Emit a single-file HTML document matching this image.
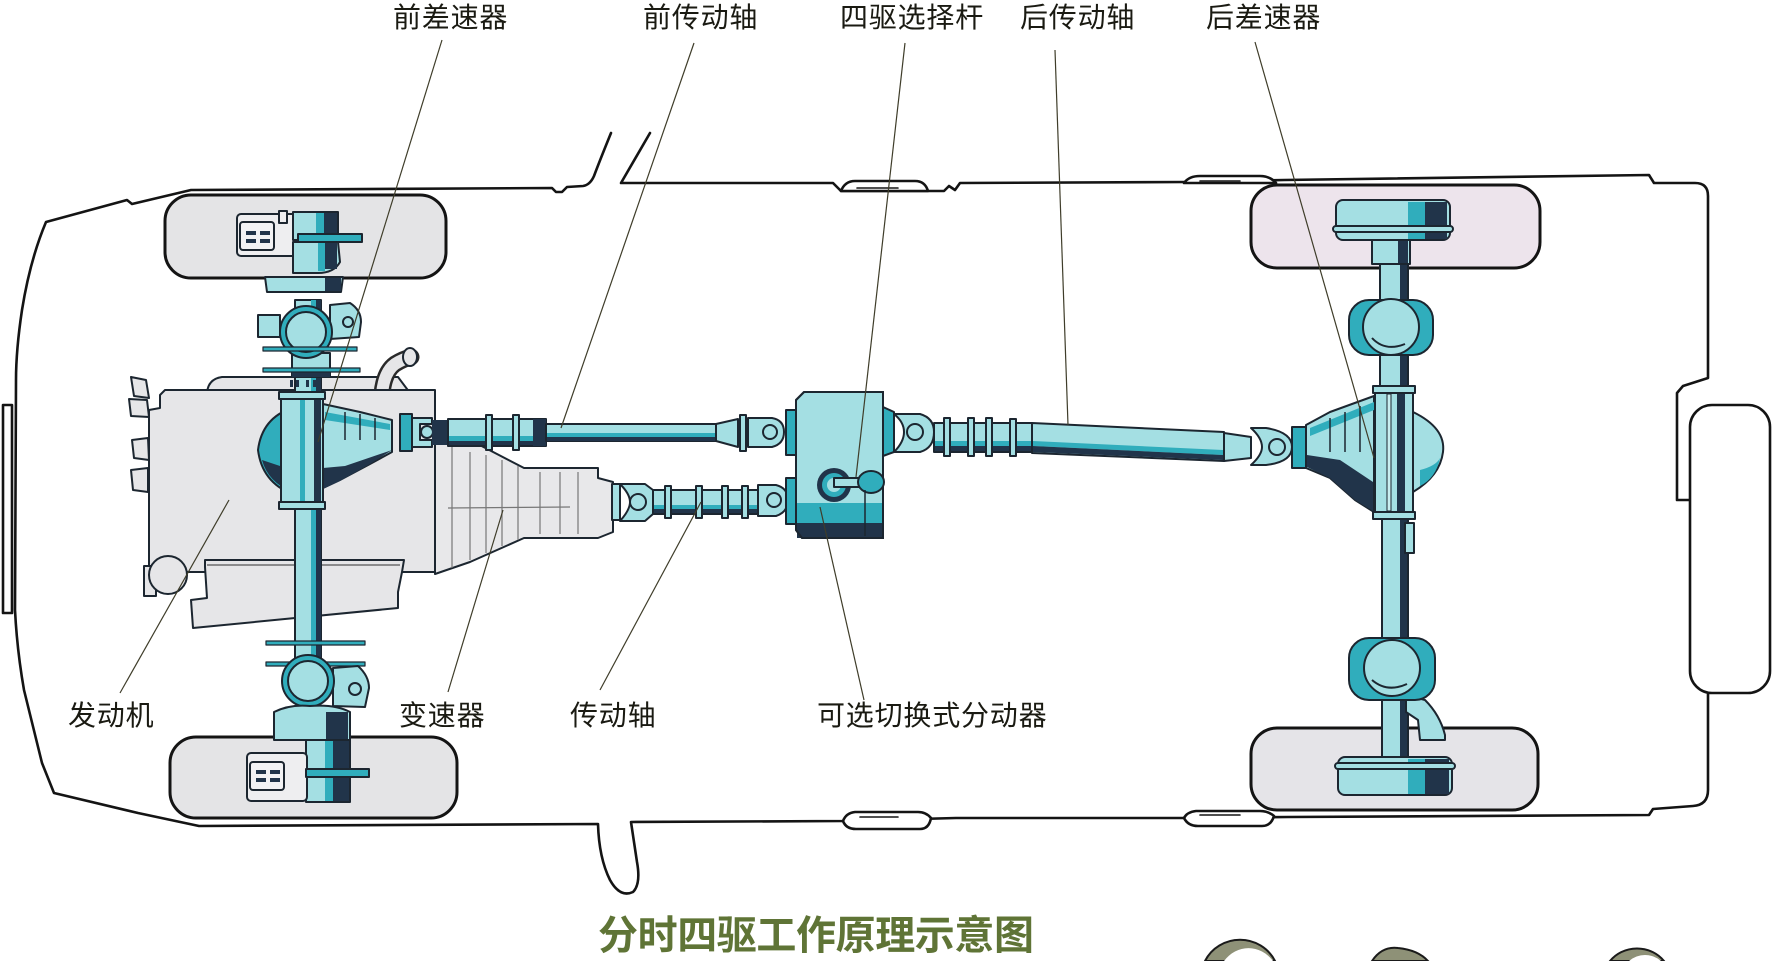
<!DOCTYPE html>
<html><head><meta charset="utf-8">
<style>
html,body{margin:0;padding:0;background:#fff;overflow:hidden;width:1773px;height:961px;}
svg{display:block}
text{font-family:"Liberation Sans","Noto Sans CJK SC",sans-serif;}
</style></head><body>
<svg width="1773" height="961" viewBox="0 0 1773 961" xmlns="http://www.w3.org/2000/svg">
<defs>
<style>
.k{stroke:#1c2630;stroke-width:2;stroke-linejoin:round;stroke-linecap:round}
.L{fill:#a4dfe3}.M{fill:#30adbc}.D{fill:#21344a}.G{fill:#e6e6e8}.W{fill:#fff}
.bd{fill:none;stroke:#141414;stroke-width:2.6;stroke-linejoin:round;stroke-linecap:round}
.ld{stroke:#3f3d2a;stroke-width:1.2;fill:none}
.lb{font-size:28px;fill:#1a1a12;letter-spacing:0.8px}
</style>
</defs>
<rect width="1773" height="961" fill="#fff"/>

<!-- BODY OUTLINE -->
<path class="bd" d="M 611,133 Q 600,160 594,176 Q 590,185 583,186 L 567,187 L 562,192 L 556,192 L 552,188 L 191,190 L 132,204 L 127,200 L 46,222 Q 30,260 22,310 Q 16,350 16,380 L 15,610 Q 17,650 24,690 L 42,763 L 54,793 L 138,813 L 199,826 L 598,824 Q 599,858 610,880 Q 620,898 633,892 Q 641,884 637,862 L 631,822 L 845,821 L 956,818 L 1188,818 L 1288,817 L 1649,815 L 1653,809 L 1693,806 Q 1708,805 1708,790 L 1708,693"/>
<path class="bd" d="M 1690,500 L 1677,500 L 1677,393 L 1683,386 L 1708,378 L 1708,196 Q 1708,183 1695,183 L 1654,183 L 1649,175 L 1284,180 L 1188,182 L 960,183 L 955,190 L 949,186 L 944,191 L 841,191 L 833,183 L 621,183 L 650,133"/>
<!-- mirrors -->
<path class="bd" style="fill:#fff" d="M 841,191 Q 845,181 855,181 L 915,181 Q 925,181 928,191 Z"/>
<path class="bd" style="stroke-width:1.6" d="M 857,188 L 898,188"/>
<path class="bd" style="fill:#fff" d="M 1184,183 Q 1189,176 1200,176 L 1260,176 Q 1270,176 1276,183 Z"/>
<path class="bd" style="stroke-width:1.6" d="M 1200,181 L 1240,181"/>
<path class="bd" style="fill:#fff" d="M 843,821 Q 846,829 856,829 L 920,829 Q 929,829 931,818 Q 926,812 918,812 L 855,812 Q 846,813 843,821 Z"/>
<path class="bd" style="stroke-width:1.6" d="M 860,817 L 898,817"/>
<path class="bd" style="fill:#fff" d="M 1184,818 Q 1188,826 1198,826 L 1262,826 Q 1271,826 1274,816 Q 1268,811 1260,811 L 1196,811 Q 1187,812 1184,818 Z"/>
<path class="bd" style="stroke-width:1.6" d="M 1200,815 L 1240,815"/>
<!-- bumper, spare -->
<rect x="3" y="405" width="9" height="208" class="bd"/>
<rect x="1690" y="405" width="80" height="288" rx="22" class="bd" style="fill:#fff"/>

<!-- WHEELS -->
<rect x="165" y="195" width="281" height="83" rx="26" fill="#e4e4e6" stroke="#141414" stroke-width="3"/>
<rect x="170" y="737" width="287" height="81" rx="26" fill="#e4e4e6" stroke="#141414" stroke-width="3"/>
<rect x="1251" y="185" width="289" height="83" rx="26" fill="#ede4ec" stroke="#141414" stroke-width="3"/>
<rect x="1251" y="728" width="287" height="82" rx="26" fill="#e5e4e8" stroke="#141414" stroke-width="3"/>

<!-- ENGINE -->
<path class="k G" d="M 207,393 Q 208,379 222,377 L 398,377 L 410,393 Z"/>
<path d="M 382,394 Q 384,372 395,364 Q 403,359 411,357" stroke="#2a2a2a" stroke-width="17" fill="none" stroke-linecap="round"/>
<path d="M 382,394 Q 384,372 395,364 Q 403,359 411,357" stroke="#e6e6e8" stroke-width="12" fill="none" stroke-linecap="round"/>
<ellipse cx="410" cy="357" rx="7" ry="9" class="k G"/>
<path class="k G" d="M 165,390 L 435,390 L 435,572 L 149,572 L 149,410 L 160,408 L 160,395 Z"/>
<path class="k G" d="M 131,377 L 146,380 L 149,398 L 134,396 Z"/>
<path class="k G" d="M 129,399 L 147,400 L 149,417 L 131,416 Z"/>
<path class="k G" d="M 132,440 L 148,438 L 149,460 L 134,458 Z"/>
<path class="k G" d="M 131,470 L 148,468 L 148,492 L 133,490 Z"/>
<rect x="144" y="566" width="12" height="30" class="k G"/>
<circle cx="168" cy="575" r="19" class="k G"/>
<path class="k G" d="M 205,560 L 404,560 L 402,572 L 398,592 L 398,608 L 193,628 L 191,600 L 207,598 L 205,567 Z"/>
<path d="M 207,565 L 400,565" stroke="#555" stroke-width="1.2"/>

<!-- TRANSMISSION -->
<path class="k" fill="#e8e8ea" d="M 435,426 L 470,440 L 524,468 L 598,468 L 598,478 L 613,482 L 613,532 L 598,538 L 524,538 L 470,562 L 435,574 Z"/>
<g stroke="#777" stroke-width="1.2">
<line x1="452" y1="446" x2="452" y2="568"/><line x1="470" y1="452" x2="470" y2="560"/>
<line x1="486" y1="455" x2="486" y2="553"/><line x1="502" y1="460" x2="502" y2="546"/>
<line x1="518" y1="466" x2="518" y2="540"/><line x1="540" y1="472" x2="540" y2="534"/>
<line x1="560" y1="472" x2="560" y2="534"/><line x1="578" y1="472" x2="578" y2="534"/>
<line x1="448" y1="508" x2="570" y2="507"/>
</g>

<!-- FRONT AXLE -->
<rect x="295" y="300" width="26" height="400" class="k L"/>
<rect x="311" y="300" width="5" height="400" class="M"/>
<rect x="316" y="300" width="5" height="400" class="D"/>
<rect x="292" y="353" width="38" height="24" class="k L"/>
<rect x="292" y="368" width="38" height="9" class="D"/>
<g class="D"><rect x="290" y="380" width="3" height="7"/><rect x="296" y="380" width="3" height="7"/><rect x="306" y="380" width="3" height="7"/><rect x="313" y="380" width="5" height="7"/></g>
<!-- front diff -->
<path class="k M" d="M 292,408 Q 262,418 258,450 Q 262,482 292,494 Z"/>
<path class="D" d="M 262,460 Q 268,482 292,492 L 292,470 Z"/>
<path class="k L" d="M 323,404 L 360,412 L 392,420 L 392,452 L 370,464 L 340,480 L 323,488 Z"/>
<path class="D" d="M 323,468 L 345,466 L 392,450 L 370,464 L 340,481 L 323,489 Z"/>
<path class="M" d="M 325,412 L 390,424 L 390,430 L 325,420 Z"/>
<g stroke="#1c2630" stroke-width="1.5"><line x1="345" y1="412" x2="345" y2="440"/><line x1="360" y1="414" x2="360" y2="440"/><line x1="375" y1="418" x2="375" y2="440"/></g>
<rect x="281" y="395" width="42" height="110" class="k L"/>
<rect x="300" y="397" width="5" height="106" class="M"/>
<rect x="314" y="397" width="7" height="106" class="D"/>
<rect x="279" y="392" width="46" height="7" class="k L"/>
<rect x="279" y="502" width="46" height="7" class="k L"/>

<!-- front top hub -->
<path class="k L" d="M 265,277 L 343,277 L 341,292 L 267,292 Z"/>
<rect x="325" y="278" width="16" height="13" class="D"/>
<rect x="258" y="315" width="22" height="22" class="k L"/>
<path class="k L" d="M 330,305 L 350,303 Q 361,310 361,322 L 359,337 L 330,339 Z"/>
<circle cx="348" cy="322" r="5" class="k L"/>
<circle cx="306" cy="332" r="26" class="k M"/>
<circle cx="306" cy="332" r="20" class="k L"/>
<rect x="263" y="347" width="94" height="4" class="k M" style="stroke-width:1.2"/>
<rect x="263" y="368" width="97" height="4" class="k M" style="stroke-width:1.2"/>
<rect x="237" y="214" width="60" height="42" rx="4" class="k" fill="#eeeef0"/>
<rect x="240" y="222" width="34" height="28" rx="3" class="k" fill="#f2f2f4"/>
<g class="D"><rect x="246" y="231" width="10" height="4"/><rect x="260" y="231" width="10" height="4"/><rect x="246" y="239" width="10" height="4"/><rect x="260" y="239" width="10" height="4"/></g>
<rect x="279" y="211" width="8" height="12" class="k" fill="#eeeef0"/>
<path class="k L" d="M 293,212 L 338,212 L 338,240 L 293,240 Z"/>
<rect x="316" y="213" width="8" height="26" class="M"/>
<rect x="324" y="213" width="13" height="26" class="D"/>
<path class="k L" d="M 293,242 L 338,242 L 340,262 Q 334,273 318,273 L 293,273 Z"/>
<rect x="318" y="243" width="7" height="28" class="M"/>
<rect x="325" y="243" width="12" height="26" class="D"/>
<rect x="298" y="234" width="64" height="8" class="k M"/>

<!-- front bottom hub -->
<rect x="266" y="641" width="99" height="4" class="k M" style="stroke-width:1.2"/>
<rect x="266" y="662" width="99" height="4" class="k M" style="stroke-width:1.2"/>
<path class="k L" d="M 333,668 L 358,666 Q 369,676 369,688 L 365,707 L 333,706 Z"/>
<circle cx="355" cy="689" r="6" class="k L"/>
<circle cx="308" cy="681" r="26" class="k M"/>
<circle cx="308" cy="681" r="20" class="k L"/>
<path class="k L" d="M 274,712 Q 290,704 310,706 Q 335,704 350,712 L 350,740 L 274,740 Z"/>
<rect x="326" y="712" width="22" height="27" class="D"/>
<path class="k L" d="M 306,740 L 350,740 L 350,802 L 306,802 Z"/>
<rect x="325" y="741" width="8" height="60" class="M"/>
<rect x="333" y="741" width="16" height="60" class="D"/>
<rect x="247" y="753" width="60" height="48" rx="4" class="k" fill="#eeeef0"/>
<rect x="250" y="762" width="34" height="28" rx="3" class="k" fill="#f2f2f4"/>
<g class="D"><rect x="256" y="770" width="10" height="4"/><rect x="270" y="770" width="10" height="4"/><rect x="256" y="778" width="10" height="4"/><rect x="270" y="778" width="10" height="4"/></g>
<rect x="306" y="769" width="63" height="8" class="k M"/>

<!-- FRONT UPPER SHAFT -->
<rect x="400" y="414" width="12" height="37" class="k M"/>
<path class="k L" d="M 412,418 L 432,418 L 432,424 L 420,424 L 420,440 L 432,440 L 432,447 L 412,447 Z"/>
<circle cx="427" cy="432" r="6" class="k L"/>
<rect x="432" y="420" width="16" height="25" class="D"/>
<rect x="448" y="419" width="98" height="27" class="k L"/>
<rect x="449" y="436" width="96" height="5" class="M"/>
<rect x="449" y="441" width="96" height="4" class="D"/>
<rect x="486" y="415" width="6" height="35" class="k L"/>
<rect x="513" y="415" width="6" height="35" class="k L"/>
<rect x="533" y="419" width="13" height="27" class="D"/>
<rect x="546" y="424" width="170" height="17" class="k L"/>
<rect x="547" y="433" width="168" height="4" class="M"/>
<rect x="547" y="437" width="168" height="4" class="D"/>
<path class="k L" d="M 716,424 L 738,419 L 738,447 L 716,441 Z"/>
<rect x="740" y="415" width="6" height="36" class="k L"/>
<path class="k L" d="M 748,418 L 772,418 Q 784,420 784,432 Q 784,444 772,447 L 748,447 Z"/>
<circle cx="770" cy="432" r="7" class="k L"/>
<rect x="786" y="410" width="10" height="45" class="k M"/>

<!-- LOWER SHAFT -->
<rect x="612" y="484" width="8" height="36" class="k L"/>
<path class="k L" d="M 620,484 L 645,484 L 653,490 L 653,514 L 645,521 L 620,521 Q 630,510 630,502 Q 630,494 620,484 Z"/>
<circle cx="638" cy="502" r="8" class="k L"/>
<rect x="653" y="490" width="105" height="24" class="k L"/>
<rect x="654" y="505" width="103" height="4" class="M"/>
<rect x="654" y="509" width="103" height="4" class="D"/>
<rect x="665" y="486" width="6" height="32" class="k L"/>
<rect x="696" y="486" width="6" height="32" class="k L"/>
<rect x="722" y="486" width="6" height="32" class="k L"/>
<rect x="742" y="486" width="6" height="32" class="k L"/>
<path class="k L" d="M 758,485 L 776,485 Q 788,488 788,500 Q 788,512 776,516 L 758,516 Z"/>
<circle cx="774" cy="500" r="7" class="k L"/>
<rect x="786" y="478" width="10" height="46" class="k M"/>

<!-- TRANSFER CASE -->
<path class="k L" d="M 804,392 L 883,392 L 883,538 L 802,538 L 796,530 L 796,400 Z"/>
<rect x="797" y="503" width="86" height="20" class="M"/>
<rect x="797" y="523" width="86" height="15" class="D"/>
<path d="M 804,392 L 883,392 L 883,538 L 802,538 L 796,530 L 796,400 Z" fill="none" stroke="#1c2630" stroke-width="2"/>
<circle cx="834" cy="485" r="17" class="D"/>
<circle cx="834" cy="485" r="12" class="M"/>
<circle cx="834" cy="485" r="7" class="L"/>
<rect x="834" y="478" width="28" height="9" class="k L"/>
<ellipse cx="871" cy="482" rx="13" ry="11" class="k M"/>
<line x1="865" y1="490" x2="865" y2="536" stroke="#1c2630" stroke-width="1.5"/>

<!-- REAR SHAFT -->
<path class="k M" d="M 883,407 L 894,412 L 894,452 L 883,456 Z"/>
<path class="k L" d="M 894,414 L 920,414 Q 934,418 934,432 Q 934,448 920,452 L 894,452 Q 904,442 904,432 Q 904,422 894,414 Z"/>
<circle cx="915" cy="432" r="8" class="k L"/>
<rect x="934" y="423" width="98" height="29" class="k L"/>
<rect x="935" y="441" width="96" height="5" class="M"/>
<rect x="935" y="446" width="96" height="5" class="D"/>
<rect x="944" y="418" width="6" height="38" class="k L"/>
<rect x="968" y="418" width="6" height="38" class="k L"/>
<rect x="986" y="418" width="6" height="38" class="k L"/>
<rect x="1010" y="419" width="6" height="37" class="k L"/>
<path class="k L" d="M 1032,423 L 1224,432 L 1224,461 L 1032,453 Z"/>
<path class="M" d="M 1033,441 L 1223,450 L 1223,455 L 1033,446 Z"/>
<path class="D" d="M 1033,446 L 1223,455 L 1223,460 L 1033,452 Z"/>
<path class="k L" d="M 1224,433 L 1251,437 L 1251,458 L 1224,461 Z"/>
<path class="k L" d="M 1251,428 L 1266,428 Q 1292,432 1292,447 Q 1292,462 1266,465 L 1251,465 Q 1262,455 1262,447 Q 1262,438 1251,428 Z"/>
<circle cx="1277" cy="447" r="8" class="k L"/>
<rect x="1292" y="427" width="14" height="41" class="k M"/>

<!-- REAR DIFF -->
<path class="k L" d="M 1306,425 L 1330,412 L 1374,396 L 1374,512 L 1355,500 L 1330,478 L 1306,468 Z"/>
<path class="D" d="M 1307,455 L 1340,460 L 1373,482 L 1373,511 L 1355,500 L 1330,478 L 1307,467 Z"/>
<path class="M" d="M 1310,428 L 1374,402 L 1374,410 L 1310,436 Z"/>
<g stroke="#1c2630" stroke-width="1.5"><line x1="1330" y1="418" x2="1330" y2="452"/><line x1="1345" y1="412" x2="1345" y2="452"/><line x1="1360" y1="406" x2="1360" y2="452"/></g>
<path class="k L" d="M 1413,412 Q 1446,428 1443,452 Q 1440,476 1413,492 Z"/>
<path class="M" d="M 1420,470 Q 1436,466 1440,458 Q 1436,478 1420,486 Z"/>
<rect x="1375" y="392" width="38" height="121" class="k L"/>
<rect x="1387" y="394" width="4" height="117" class="k" fill="#c8eef0" style="stroke-width:1"/>
<rect x="1397" y="394" width="8" height="117" class="D"/>
<rect x="1373" y="386" width="42" height="7" class="k L"/>
<rect x="1373" y="512" width="42" height="7" class="k L"/>

<!-- REAR AXLE TOP -->
<rect x="1380" y="263" width="28" height="123" class="k L"/>
<rect x="1400" y="264" width="7" height="121" class="D"/>
<rect x="1349" y="300" width="84" height="55" rx="20" class="k M"/>
<circle cx="1391" cy="327" r="28" class="k L"/>
<path d="M 1372,338 Q 1385,352 1405,344" stroke="#1c2630" stroke-width="2" fill="none"/>
<rect x="1372" y="240" width="38" height="24" class="k L"/>
<rect x="1398" y="241" width="10" height="22" class="D"/>
<rect x="1336" y="200" width="114" height="40" rx="7" class="k L"/>
<rect x="1408" y="202" width="17" height="37" class="M"/>
<rect x="1425" y="202" width="22" height="37" class="D"/>
<rect x="1333" y="226" width="120" height="6" rx="3" class="k L"/>

<!-- REAR AXLE BOTTOM -->
<rect x="1382" y="519" width="26" height="272" class="k L"/>
<rect x="1400" y="520" width="7" height="270" class="D"/>
<rect x="1405" y="523" width="9" height="30" class="k L"/>
<path class="k L" d="M 1406,695 L 1425,700 Q 1440,715 1445,735 L 1445,740 L 1420,740 L 1418,720 L 1406,712 Z"/>
<rect x="1349" y="638" width="86" height="62" rx="20" class="k M"/>
<circle cx="1392" cy="668" r="28" class="k L"/>
<path d="M 1372,680 Q 1387,693 1407,684" stroke="#1c2630" stroke-width="2" fill="none"/>
<rect x="1338" y="757" width="114" height="38" rx="7" class="k L"/>
<rect x="1408" y="759" width="17" height="35" class="M"/>
<rect x="1425" y="759" width="24" height="35" class="D"/>
<rect x="1335" y="763" width="120" height="6" rx="3" class="k L"/>

<!-- LEADER LINES -->
<g class="ld">
<line x1="442" y1="40" x2="318" y2="442"/>
<line x1="694" y1="43" x2="561" y2="428"/>
<line x1="905" y1="43" x2="856" y2="477"/>
<line x1="1055" y1="50" x2="1068" y2="425"/>
<line x1="1255" y1="42" x2="1374" y2="458"/>
<line x1="120" y1="693" x2="229" y2="500"/>
<line x1="448" y1="692" x2="503" y2="510"/>
<line x1="600" y1="690" x2="701" y2="502"/>
<line x1="864" y1="700" x2="820" y2="507"/>
</g>

<!-- LABELS -->
<text class="lb" x="393" y="27">前差速器</text>
<text class="lb" x="643" y="27">前传动轴</text>
<text class="lb" x="840" y="27">四驱选择杆</text>
<text class="lb" x="1020" y="27">后传动轴</text>
<text class="lb" x="1206" y="27">后差速器</text>
<text class="lb" x="68" y="725">发动机</text>
<text class="lb" x="399" y="725">变速器</text>
<text class="lb" x="570" y="725">传动轴</text>
<text class="lb" x="817" y="725">可选切换式分动器</text>

<text x="598" y="949" style="font-size:40px;font-weight:bold;fill:#5f7436;letter-spacing:-0.4px">分时四驱工作原理示意图</text>

<!-- decorative rings (clipped at bottom edge) -->
<path d="M 1205,961 A 39 38 0 0 1 1275,961 Z" fill="#8e9177" stroke="#1a1a1a" stroke-width="2"/>
<path d="M 1224,961 A 32 36 0 0 1 1273,961 Z" fill="#fff"/>
<path d="M 1372,961 Q 1382,946 1398,948 Q 1418,950 1428,961 Z" fill="#8e9177" stroke="#1a1a1a" stroke-width="2"/>
<path d="M 1610,961 A 34 32 0 0 1 1664,961 Z" fill="#8e9177" stroke="#1a1a1a" stroke-width="2"/>
<path d="M 1629,961 A 27 31 0 0 1 1661,961 Z" fill="#fff"/>
</svg>
</body></html>
